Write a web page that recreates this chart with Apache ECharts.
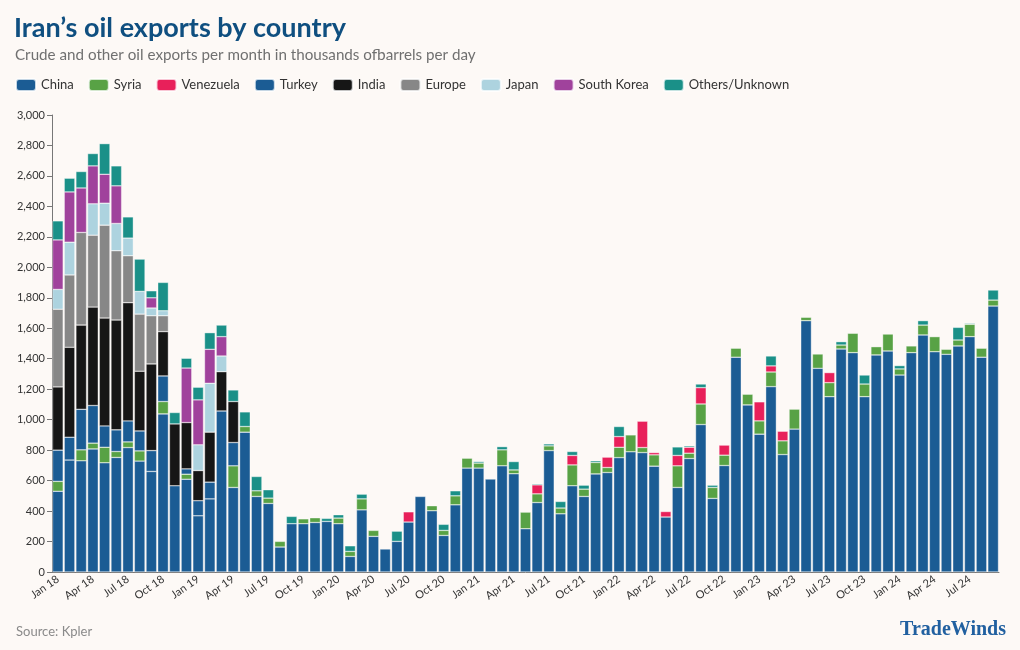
<!DOCTYPE html>
<html>
<head>
<meta charset="utf-8">
<script src="https://cdn.jsdelivr.net/npm/echarts@6/dist/echarts.min.js"></script>
<style>
  html, body { margin: 0; padding: 0; background: #fdf9f6; }
  #chart { width: 1020px; height: 650px; }
</style>
</head>
<body>
<div id="chart"></div>
<script>
const months = [
  'Jan 18','Feb 18','Mar 18','Apr 18','May 18','Jun 18','Jul 18','Aug 18','Sep 18','Oct 18','Nov 18','Dec 18',
  'Jan 19','Feb 19','Mar 19','Apr 19','May 19','Jun 19','Jul 19','Aug 19','Sep 19','Oct 19','Nov 19','Dec 19',
  'Jan 20','Feb 20','Mar 20','Apr 20','May 20','Jun 20','Jul 20','Aug 20','Sep 20','Oct 20','Nov 20','Dec 20',
  'Jan 21','Feb 21','Mar 21','Apr 21','May 21','Jun 21','Jul 21','Aug 21','Sep 21','Oct 21','Nov 21','Dec 21',
  'Jan 22','Feb 22','Mar 22','Apr 22','May 22','Jun 22','Jul 22','Aug 22','Sep 22','Oct 22','Nov 22','Dec 22',
  'Jan 23','Feb 23','Mar 23','Apr 23','May 23','Jun 23','Jul 23','Aug 23','Sep 23','Oct 23','Nov 23','Dec 23',
  'Jan 24','Feb 24','Mar 24','Apr 24','May 24','Jun 24','Jul 24','Aug 24','Sep 24'
];

const china = [
  530,735,730,808,717,752,817,728,660,1038,566,609,
  369,480,1057,555,918,496,450,164,317,317,325,332,
  317,102,408,234,151,201,328,496,402,240,441,682,
  682,610,697,645,284,456,797,382,566,496,644,653,
  751,789,784,695,361,555,745,968,483,699,1410,1097,
  905,1217,771,938,1650,1337,1151,1464,1440,1151,1425,1451,
  1293,1440,1556,1446,1429,1484,1545,1410,1746
];
const syria = [
  65,0,72,38,102,39,37,67,0,81,0,33,
  0,0,0,142,37,37,35,37,0,32,31,0,
  37,33,72,39,0,0,0,0,33,33,59,65,
  33,0,105,25,109,57,31,38,137,48,75,33,
  68,111,33,74,0,142,35,135,72,68,59,70,
  87,96,90,131,22,94,92,26,127,83,54,111,
  40,44,65,99,33,39,81,59,39
];
const venezuela = [
  0,0,0,0,0,0,0,0,0,0,0,0,
  0,0,0,0,0,0,0,0,0,0,0,0,
  0,0,0,0,0,0,67,0,0,0,0,0,
  0,0,0,0,0,59,0,0,62,0,0,68,
  70,0,173,15,36,68,39,107,0,66,0,0,
  125,40,63,0,0,0,66,0,0,0,0,0,
  0,0,0,0,0,0,0,0,0
];
const turkey = [
  205,150,266,247,140,142,138,131,137,168,0,35,
  99,110,0,153,0,0,0,0,0,0,0,0,
  0,0,0,0,0,0,0,0,0,0,0,0,
  0,0,0,0,0,0,0,0,0,0,0,0,
  0,0,0,0,0,0,0,0,0,0,0,0,
  0,0,0,0,0,0,0,0,0,0,0,0,
  0,0,0,0,0,0,0,0,0
];
const india = [
  415,590,553,646,708,721,776,392,569,291,406,304,
  198,328,258,269,0,0,0,0,0,0,0,0,
  0,0,0,0,0,0,0,0,0,0,0,0,
  0,0,0,0,0,0,0,0,0,0,0,0,
  0,0,0,0,0,0,0,0,0,0,0,0,
  0,0,0,0,0,0,0,0,0,0,0,0,
  0,0,0,0,0,0,0,0,0
];
const europe = [
  510,475,608,472,610,455,308,375,316,104,0,0,
  0,0,0,0,0,0,0,0,0,0,0,0,
  0,0,0,0,0,0,0,0,0,0,0,0,
  0,0,0,0,0,0,0,0,0,0,0,0,
  0,0,0,0,0,0,0,0,0,0,0,0,
  0,0,0,0,0,0,0,0,0,0,0,0,
  0,0,0,0,0,0,0,0,0
];
const japan = [
  130,215,0,206,144,179,116,149,51,33,0,0,
  169,321,103,0,0,0,0,0,0,0,0,0,
  0,0,0,0,0,0,0,0,0,0,0,0,
  0,0,0,0,0,0,0,0,0,0,0,0,
  0,0,0,0,0,0,0,0,0,0,0,0,
  0,0,0,0,0,0,0,0,0,0,0,0,
  0,0,0,0,0,0,0,0,0
];
const southKorea = [
  325,330,292,249,190,247,0,0,67,0,0,358,
  295,223,127,0,0,0,0,0,0,0,0,0,
  0,0,0,0,0,0,0,0,0,0,0,0,
  0,0,0,0,0,0,0,0,0,0,0,0,
  0,0,0,0,0,0,0,0,0,0,0,0,
  0,0,0,0,0,0,0,0,0,0,0,0,
  0,0,0,0,0,0,0,0,0
];
const others = [
  125,90,108,81,201,131,139,212,46,186,75,64,
  83,109,76,76,96,94,55,0,48,0,0,20,
  22,37,31,0,0,67,0,0,0,40,33,0,
  10,0,21,55,0,7,13,43,26,26,11,0,
  66,0,0,0,0,56,9,24,15,0,0,0,
  0,65,0,0,0,0,0,22,0,59,0,0,
  22,0,29,0,0,83,6,0,66
];

const yTicks = [0,200,400,600,800,1000,1200,1400,1600,1800,2000,2200,2400,2600,2800,3000];

const seriesDefs = [
  { name: 'China', data: china, color: '#1b5c94' },
  { name: 'Syria', data: syria, color: '#58a245' },
  { name: 'Venezuela', data: venezuela, color: '#e8205a' },
  { name: 'Turkey', data: turkey, color: '#1b5c94' },
  { name: 'India', data: india, color: '#161616' },
  { name: 'Europe', data: europe, color: '#878787' },
  { name: 'Japan', data: japan, color: '#add3df' },
  { name: 'South Korea', data: southKorea, color: '#a0429c' },
  { name: 'Others/Unknown', data: others, color: '#1a9088' }
];

const FONT = 'Lato, "Noto Sans", sans-serif';
const chart = echarts.init(document.getElementById('chart'), null, { renderer: 'canvas' });

chart.setOption({
  backgroundColor: '#fdf9f6',
  animation: false,
  textStyle: { fontFamily: FONT },
  title: [
    { text: 'Iran\u2019s oil exports by country', left: 9, top: 10,
      textStyle: { fontSize: 27, fontWeight: 'bold', color: '#0f4f80', fontFamily: FONT } },
    { text: 'Crude and other oil exports per month in thousands ofbarrels per day', left: 10, top: 43,
      textStyle: { fontSize: 15.2, fontWeight: 'normal', color: '#707070', fontFamily: FONT } },
    { text: 'Source: Kpler', left: 11, top: 620,
      textStyle: { fontSize: 13, fontWeight: 'normal', color: '#8a8a8a', fontFamily: FONT } },
    { text: 'TradeWinds', right: 9, top: 615,
      textStyle: { fontSize: 20, fontWeight: 'bold', color: '#2160a0', fontFamily: '"Liberation Serif", "DejaVu Serif", serif' } }
  ],
  legend: {
    left: 10, top: 73,
    itemWidth: 20, itemHeight: 12, itemGap: 14,
    icon: 'roundRect',
    textStyle: { fontSize: 13, color: '#333', fontFamily: FONT },
    data: seriesDefs.map(s => s.name)
  },
  grid: { left: 52, right: 21, top: 115, bottom: 78, containLabel: false },
  xAxis: {
    type: 'category',
    data: months,
    axisLine: { lineStyle: { color: '#777' } },
    axisTick: { interval: 0, alignWithLabel: true, length: 4, lineStyle: { color: '#777' } },
    axisLabel: { interval: 2, rotate: 35, fontSize: 11, color: '#333', margin: 6, fontFamily: FONT }
  },
  yAxis: {
    type: 'value',
    min: yTicks[0], max: yTicks[yTicks.length - 1], interval: yTicks[1] - yTicks[0],
    axisLine: { show: true, lineStyle: { color: '#777' } },
    axisTick: { show: true, length: 5, lineStyle: { color: '#777' } },
    splitLine: { show: false },
    axisLabel: { fontSize: 11, color: '#333', margin: 7, fontFamily: FONT,
      formatter: v => v.toLocaleString('en-US') }
  },
  series: seriesDefs.map(s => ({
    name: s.name,
    type: 'bar',
    stack: 'total',
    barCategoryGap: '9%',
    data: s.data.map(v => v === 0 ? '-' : v),
    itemStyle: { color: s.color, borderColor: 'rgba(255,255,255,0.75)', borderWidth: 0.5 },
    emphasis: { disabled: true }
  }))
});
</script>
</body>
</html>
